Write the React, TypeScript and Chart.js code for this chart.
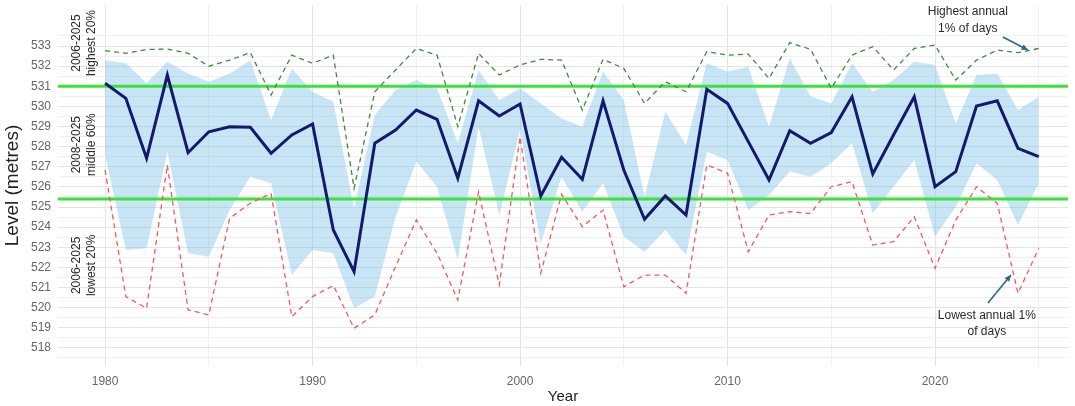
import React, { useEffect, useRef } from 'react';
import { Chart, registerables } from 'chart.js';

Chart.register(...registerables);

const years = [
  1980, 1981, 1982, 1983, 1984, 1985, 1986, 1987, 1988, 1989,
  1990, 1991, 1992, 1993, 1994, 1995, 1996, 1997, 1998, 1999,
  2000, 2001, 2002, 2003, 2004, 2005, 2006, 2007, 2008, 2009,
  2010, 2011, 2012, 2013, 2014, 2015, 2016, 2017, 2018, 2019,
  2020, 2021, 2022, 2023, 2024, 2025,
];

const medianLevel = [
  531.15, 530.4, 527.42, 531.56, 527.7, 528.74, 528.99, 528.96, 527.67, 528.58,
  529.13, 523.86, 521.79, 528.17, 528.83, 529.82, 529.36, 526.43, 530.28, 529.52,
  530.12, 525.55, 527.47, 526.38, 530.28, 526.84, 524.39, 525.55, 524.6, 530.85,
  530.15, 528.25, 526.34, 528.79, 528.17, 528.7, 530.48, 526.64, 528.58, 530.48,
  526.01, 526.76, 530.02, 530.28, 527.92, 527.5,
];

const ribbonHigh = [
  532.3, 532.14, 531.15, 532.22, 531.64, 531.23, 531.64, 532.3, 529.32, 531.89,
  530.73, 530.23, 524.94, 529.57, 530.81, 531.31, 530.9, 528.17, 531.81, 530.32,
  530.9, 530.15, 529.4, 528.99, 531.73, 530.32, 525.51, 529.74, 528.08, 532.14,
  531.73, 531.97, 528.99, 532.39, 530.5, 530.15, 532.14, 530.73, 531.31, 532.22,
  532.06, 529.16, 531.56, 531.64, 529.82, 530.48,
];

const ribbonLow = [
  527.6, 522.87, 522.95, 527.75, 522.7, 522.53, 524.85, 526.51, 526.18, 521.62,
  522.87, 522.7, 519.97, 520.55, 524.52, 527.26, 526.01, 522.37, 528.99, 524.6,
  528.83, 523.2, 526.51, 524.77, 526.18, 523.53, 522.78, 523.86, 522.62, 527.75,
  527.34, 524.85, 525.6, 526.76, 526.51, 527.17, 528.17, 524.69, 526.01, 527.34,
  523.53, 525.02, 527.17, 526.34, 524.11, 526.18,
];

const highestPct1 = [
  532.77, 532.64, 532.83, 532.85, 532.64, 532.0, 532.3, 532.67, 530.57, 532.55,
  532.14, 532.55, 525.93, 530.73, 531.81, 532.88, 532.55, 528.99, 532.64, 531.56,
  532.06, 532.34, 532.3, 529.82, 532.34, 531.89, 530.15, 531.23, 530.73, 532.72,
  532.55, 532.6, 531.39, 533.17, 532.84, 530.9, 532.55, 532.97, 531.81, 532.88,
  533.05, 531.31, 532.3, 532.8, 532.67, 532.88,
];

const lowestPct1 = [
  526.84, 520.55, 519.97, 527.09, 519.89, 519.64, 524.44, 525.19, 525.68, 519.55,
  520.55, 521.1, 518.98, 519.64, 522.04, 524.36, 522.7, 520.38, 525.76, 521.13,
  528.49, 521.71, 525.64, 524.02, 524.85, 521.04, 521.62, 521.62, 520.71, 527.09,
  526.68, 522.78, 524.6, 524.77, 524.68, 526.01, 526.26, 523.11, 523.28, 524.52,
  521.96, 524.35, 526.01, 525.19, 520.71, 522.95,
];

const thresholds = [531.0, 525.4];

const yTickLabels = [518, 519, 520, 521, 522, 523, 524, 525, 526, 527, 528, 529, 530, 531, 532, 533];
const xTickLabels = [1980, 1990, 2000, 2010, 2020];
const xMinorBreaks = [1985, 1995, 2005, 2015, 2025];

const bandLabels = [
  { l1: '2006-2025', l2: 'highest 20%', y: 533.15 },
  { l1: '2008-2025', l2: 'middle 60%', y: 528.1 },
  { l1: '2006-2025', l2: 'lowest 20%', y: 522.1 },
];

const noteHigh = { lines: ['Highest annual', '1% of days'], x: 2021.58, y: [534.69, 533.84], arrow: [2023.27, 533.45, 2024.48, 532.8] };
const noteLow = { lines: ['Lowest annual 1%', 'of days'], x: 2022.5, y: [519.59, 518.79], arrow: [2022.55, 520.23, 2023.66, 521.62] };

const FONT = '"Liberation Sans", Arial, sans-serif';

const pts = (vals: number[]) => years.map((x, i) => ({ x, y: vals[i] }));

const drawArrow = (ctx: CanvasRenderingContext2D, x1: number, y1: number, x2: number, y2: number) => {
  ctx.save();
  ctx.strokeStyle = '#2b6a8a';
  ctx.fillStyle = '#2b6a8a';
  ctx.lineWidth = 1.6;
  ctx.beginPath();
  ctx.moveTo(x1, y1);
  ctx.lineTo(x2, y2);
  ctx.stroke();
  const ang = Math.atan2(y2 - y1, x2 - x1);
  const len = 7;
  ctx.beginPath();
  ctx.moveTo(x2, y2);
  ctx.lineTo(x2 - len * Math.cos(ang - 0.45), y2 - len * Math.sin(ang - 0.45));
  ctx.lineTo(x2 - len * Math.cos(ang + 0.45), y2 - len * Math.sin(ang + 0.45));
  ctx.closePath();
  ctx.fill();
  ctx.restore();
};

const overlayPlugin = {
  id: 'overlay',
  afterDatasetDraw(chart: any, args: any) {
    if (args.index !== 1) return;
    const { ctx, chartArea: a, scales } = chart;
    ctx.save();
    ctx.strokeStyle = '#3be23b';
    ctx.lineWidth = 3;
    for (const v of thresholds) {
      const py = scales.y.getPixelForValue(v);
      ctx.beginPath();
      ctx.moveTo(a.left, py);
      ctx.lineTo(a.right, py);
      ctx.stroke();
    }
    ctx.restore();
  },
  afterDatasetsDraw(chart: any) {
    const { ctx, scales } = chart;
    const sx = scales.x;
    const sy = scales.y;
    ctx.save();
    ctx.fillStyle = '#2a2a2a';
    ctx.font = `12px ${FONT}`;
    ctx.textAlign = 'center';
    ctx.textBaseline = 'middle';
    const x1 = sx.getPixelForValue(1978.65);
    const x2 = sx.getPixelForValue(1979.37);
    for (const b of bandLabels) {
      const py = sy.getPixelForValue(b.y);
      ctx.save();
      ctx.translate(x1, py);
      ctx.rotate(-Math.PI / 2);
      ctx.fillText(b.l1, 0, 0);
      ctx.restore();
      ctx.save();
      ctx.translate(x2, py);
      ctx.rotate(-Math.PI / 2);
      ctx.fillText(b.l2, 0, 0);
      ctx.restore();
    }
    for (const n of [noteHigh, noteLow]) {
      n.lines.forEach((t, i) => {
        ctx.fillText(t, sx.getPixelForValue(n.x), sy.getPixelForValue(n.y[i]));
      });
      drawArrow(
        ctx,
        sx.getPixelForValue(n.arrow[0]),
        sy.getPixelForValue(n.arrow[1]),
        sx.getPixelForValue(n.arrow[2]),
        sy.getPixelForValue(n.arrow[3])
      );
    }
    ctx.restore();
  },
};

export default function App() {
  const ref = useRef<HTMLCanvasElement | null>(null);

  useEffect(() => {
    document.body.style.margin = '0';
    if (!ref.current) return;
    Chart.defaults.font.family = FONT;
    const chart = new Chart(ref.current, {
      type: 'line',
      data: {
        datasets: [
          {
            label: 'ribbonLow',
            data: pts(ribbonLow),
            borderWidth: 0,
            borderColor: 'rgba(0,0,0,0)',
            pointRadius: 0,
            fill: false,
            order: 6,
          },
          {
            label: 'ribbonHigh',
            data: pts(ribbonHigh),
            borderWidth: 0,
            borderColor: 'rgba(0,0,0,0)',
            backgroundColor: 'rgba(125,192,232,0.42)',
            pointRadius: 0,
            fill: '-1',
            order: 5,
          },
          {
            label: 'lowest',
            data: pts(lowestPct1),
            borderColor: '#ef5b5b',
            borderWidth: 1.3,
            borderDash: [5, 4],
            pointRadius: 0,
            fill: false,
            order: 2,
          },
          {
            label: 'highest',
            data: pts(highestPct1),
            borderColor: '#3f8a3f',
            borderWidth: 1.3,
            borderDash: [5, 4],
            pointRadius: 0,
            fill: false,
            order: 1,
          },
          {
            label: 'median',
            data: pts(medianLevel),
            borderColor: '#141a6b',
            borderWidth: 3,
            pointRadius: 0,
            fill: false,
            order: 0,
          },
        ],
      },
      options: {
        animation: false,
        responsive: false,
        maintainAspectRatio: false,
        layout: { padding: { top: 5, right: 7, left: 0, bottom: 0 } },
        plugins: { legend: { display: false }, tooltip: { enabled: false } },
        elements: { line: { tension: 0 } },
        scales: {
          x: {
            type: 'linear',
            min: 1977.73,
            max: 2026.41,
            afterBuildTicks: (scale: any) => {
              scale.ticks = [...xTickLabels, ...xMinorBreaks]
                .sort((a, b) => a - b)
                .map((v) => ({ value: v }));
            },
            afterFit: (scale: any) => {
              scale.height = 40;
              scale.paddingLeft = 0;
              scale.paddingRight = 0;
            },
            border: { display: false },
            grid: {
              drawTicks: false,
              color: (c: any) => (xTickLabels.includes(c.tick?.value) ? '#e4e4e4' : '#f0f0f0'),
              lineWidth: 1,
            },
            ticks: {
              padding: 8,
              color: '#666',
              font: { size: 12 },
              maxRotation: 0,
              autoSkip: false,
              callback: (v: any) => (xTickLabels.includes(Number(v)) ? String(v) : ''),
            },
            title: {
              display: true,
              text: 'Year',
              color: '#222',
              font: { size: 15 },
              padding: { top: 2, bottom: 0 },
            },
          },
          y: {
            type: 'linear',
            min: 517.1,
            max: 535.04,
            afterBuildTicks: (scale: any) => {
              const t: { value: number }[] = [];
              for (let i = 0; i < yTickLabels.length; i++) {
                t.push({ value: yTickLabels[i] - 0.5 });
                t.push({ value: yTickLabels[i] });
              }
              t.push({ value: yTickLabels[yTickLabels.length - 1] + 0.5 });
              scale.ticks = t;
            },
            afterFit: (scale: any) => {
              scale.width = 58;
              scale.paddingTop = 0;
              scale.paddingBottom = 0;
            },
            border: { display: false },
            grid: {
              drawTicks: false,
              color: (c: any) => (yTickLabels.includes(c.tick?.value) ? '#e4e4e4' : '#f0f0f0'),
              lineWidth: 1,
            },
            ticks: {
              padding: 7,
              color: '#666',
              font: { size: 12 },
              autoSkip: false,
              callback: (v: any) => (yTickLabels.includes(Number(v)) ? String(v) : ''),
            },
            title: {
              display: true,
              text: 'Level (metres)',
              color: '#222',
              font: { size: 19 },
              padding: { top: 1, bottom: 0 },
            },
          },
        },
      },
      plugins: [overlayPlugin],
    } as any);
    return () => chart.destroy();
  }, []);

  return (
    <div style={{ width: 1075, height: 406, background: '#fff' }}>
      <canvas ref={ref} width={1075} height={406} style={{ display: 'block' }} />
    </div>
  );
}
